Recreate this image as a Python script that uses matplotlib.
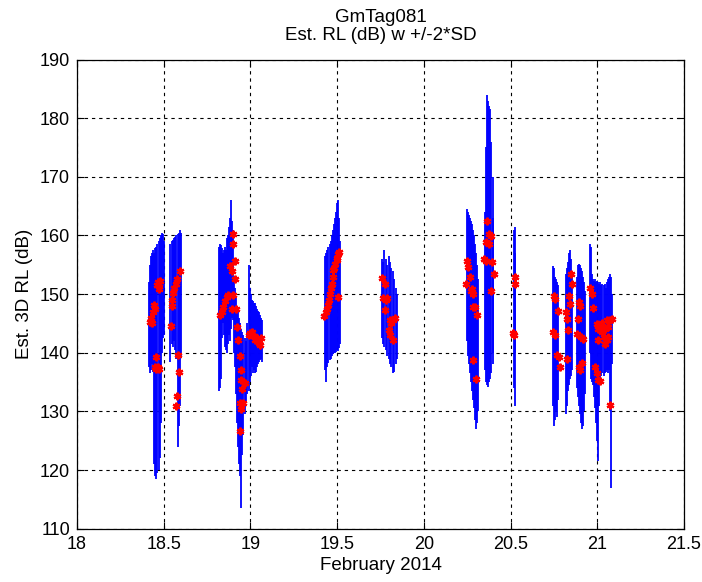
import matplotlib
matplotlib.use("Agg")
import matplotlib.pyplot as plt

plt.rcParams['font.family'] = ['Liberation Sans', 'DejaVu Sans']

title_lines = ["GmTag081", "Est. RL (dB) w +/-2*SD"]
x_label = "February 2014"
y_label = "Est. 3D RL (dB)"
x_ticks = [18, 18.5, 19, 19.5, 20, 20.5, 21, 21.5]
x_tick_labels = ["18", "18.5", "19", "19.5", "20", "20.5", "21", "21.5"]
y_ticks = [110, 120, 130, 140, 150, 160, 170, 180, 190]

# error bars: time (day of Feb 2014), lower and upper bound (dB)
bar_x = [
    18.415, 18.422, 18.428, 18.434, 18.440, 18.446, 18.452, 18.458, 18.464, 18.470, 18.476, 18.482, 18.488, 18.494, 18.500,
    18.538, 18.545, 18.552, 18.559, 18.566, 18.573, 18.580, 18.587, 18.594, 18.600,
    18.816, 18.822, 18.828, 18.834, 18.840, 18.846, 18.852, 18.858, 18.864, 18.870, 18.876, 18.882, 18.888, 18.894, 18.900,
    18.906, 18.912, 18.918, 18.924, 18.930, 18.936, 18.942, 18.948, 18.954, 18.960, 18.966, 18.972, 18.978,
    18.990, 18.996, 19.002, 19.008, 19.014, 19.020, 19.026, 19.032, 19.038, 19.044, 19.050, 19.056, 19.062, 19.068,
    19.432, 19.438, 19.444, 19.450, 19.456, 19.462, 19.468, 19.474, 19.480, 19.486, 19.492, 19.498, 19.504, 19.510, 19.516,
    19.757, 19.765, 19.773, 19.781, 19.789, 19.797, 19.805, 19.813, 19.821, 19.829, 19.837, 19.843,
    20.247, 20.253, 20.259, 20.265, 20.271, 20.277, 20.283, 20.289, 20.295, 20.301, 20.307, 20.313,
    20.354, 20.360, 20.366, 20.372, 20.378, 20.384, 20.390, 20.396, 20.401,
    20.518, 20.524, 20.528,
    20.746, 20.752, 20.758, 20.764, 20.770, 20.776,
    20.820, 20.826, 20.832, 20.838, 20.844, 20.850, 20.856,
    20.882, 20.888, 20.894, 20.900, 20.906, 20.912, 20.918, 20.924, 20.930,
    20.958, 20.964, 20.970, 20.976, 20.982, 20.988, 20.994, 21.000, 21.006, 21.012, 21.018,
    21.024, 21.030, 21.036, 21.042, 21.048, 21.054, 21.060, 21.066, 21.072, 21.078, 21.084,
]
bar_lo = [
    137.5, 136.5, 137.0, 138.0, 136.8, 121.0, 119.0, 118.5, 119.5, 120.0, 122.0, 128.0, 140.0, 142.5, 143.0,
    138.5, 141.5, 141.0, 142.0, 140.5, 139.0, 124.0, 127.5, 131.0, 139.5,
    133.5, 134.0, 135.5, 142.5, 145.0, 143.0, 141.0, 140.5, 140.0, 141.5, 143.0, 142.0, 144.0, 146.0, 145.5,
    140.0, 137.5, 133.0, 128.0, 124.0, 121.0, 119.0, 113.5, 122.5, 126.0, 129.5, 131.5, 133.0,
    133.5, 135.0, 136.0, 137.5, 136.5, 137.0, 136.5, 136.8, 137.5, 138.0, 138.5, 138.8, 139.0, 138.5,
    137.0, 135.0, 137.5, 138.2, 138.8, 139.0, 139.4, 139.8, 139.9, 140.0, 140.2, 140.5, 140.3, 140.8, 141.5,
    142.5, 141.5, 141.0, 140.5, 139.5, 139.0, 138.0, 137.5, 136.5, 136.8, 138.0, 139.0,
    142.0, 139.5, 138.0, 136.5, 135.0, 133.5, 132.0, 130.5, 128.5, 127.0, 128.0, 130.0,
    137.0, 135.0, 134.5, 134.2, 135.0, 135.5, 136.5, 138.0, 140.0,
    134.0, 131.0, 140.0,
    131.0, 127.5, 128.5, 130.0, 129.0, 132.0,
    129.5, 131.0, 133.5, 134.5, 135.5, 136.0, 137.0,
    134.0, 132.5, 131.0, 129.5, 128.0, 127.0, 127.5, 130.0, 133.0,
    140.0, 135.5, 135.0, 134.5, 132.5, 130.5, 128.0, 125.0, 121.5, 131.0, 135.5,
    136.0, 136.5, 136.0, 136.5, 136.8, 137.0, 136.5, 137.0, 130.0, 117.0, 138.0,
]
bar_hi = [
    152.0, 155.0, 156.5, 157.0, 157.5, 157.0, 157.8, 158.0, 158.5, 159.0, 159.5, 160.0, 160.5, 160.2, 159.0,
    158.5, 159.0, 159.2, 159.5, 159.8, 160.0, 160.2, 160.5, 161.0, 160.5,
    158.0, 158.5, 158.3, 157.8, 157.0, 157.5, 158.0, 157.6, 159.5, 160.0, 161.5, 163.0, 166.0, 162.5, 161.0,
    152.5, 151.0, 149.5, 148.0, 147.0, 146.0, 145.0, 144.0, 143.5, 143.0, 142.5, 142.0, 145.0,
    155.0, 151.0, 150.0, 149.0, 148.8, 148.5, 148.5, 148.0, 147.5, 147.2, 147.0, 146.5, 146.0, 145.5,
    156.5, 157.0, 157.5, 158.0, 158.5, 159.0, 160.0, 161.0, 162.0, 163.0, 164.0, 165.5, 166.0, 163.0, 159.0,
    156.0, 155.5, 157.5, 156.0, 155.0, 156.5, 155.5, 154.5, 154.0, 152.5, 151.0, 150.0,
    164.5, 164.0, 163.5, 163.0, 162.5, 162.0, 161.0, 160.0, 158.5, 157.0, 155.0, 152.5,
    164.0, 175.0, 184.0, 183.0, 182.0, 181.5, 176.0, 170.0, 163.0,
    161.0, 161.5, 157.0,
    154.8, 154.5, 153.0, 152.5, 152.0, 151.5,
    153.5, 154.5, 155.5, 157.0, 157.5, 156.0, 154.0,
    153.0, 155.0, 155.2, 155.0, 154.5, 154.0, 153.0, 152.0, 150.5,
    158.5, 158.0, 153.5, 152.5, 152.3, 152.5, 152.0, 152.3, 152.0, 151.8, 152.0,
    151.5, 151.8, 151.5, 151.7, 151.0, 152.0, 152.5, 153.0, 153.4, 153.0, 150.0,
]

# red estimate markers
dot_x = [
    18.420, 18.425, 18.430, 18.440, 18.445, 18.452, 18.460, 18.465, 18.470, 18.475, 18.480,
    18.455, 18.450, 18.458, 18.465, 18.470,
    18.540, 18.546, 18.550, 18.556, 18.562, 18.568, 18.575, 18.594, 18.584, 18.586, 18.579, 18.571,
    18.825, 18.834, 18.844, 18.853, 18.863, 18.873, 18.882, 18.892, 18.902, 18.898, 18.911, 18.911, 18.902, 18.892,
    18.919, 18.925, 18.929, 18.938, 18.944, 18.948, 18.952, 18.938, 18.957, 18.948, 18.938, 18.967,
    18.990, 19.000, 19.010, 19.020, 19.028, 19.038, 19.047, 19.057, 19.060,
    19.425, 19.436, 19.440, 19.449, 19.455, 19.459, 19.465, 19.468, 19.474, 19.478, 19.484, 19.488,
    19.497, 19.500, 19.507, 19.513, 19.507,
    19.761, 19.774, 19.765, 19.784, 19.788, 19.774, 19.803, 19.813, 19.822, 19.832, 19.799, 19.807, 19.822,
    20.247, 20.257, 20.266, 20.243, 20.276, 20.270, 20.285, 20.282, 20.295, 20.305, 20.285, 20.300,
    20.366, 20.376, 20.385, 20.357, 20.376, 20.347, 20.357, 20.395, 20.405, 20.385,
    20.526, 20.526, 20.513, 20.522,
    20.751, 20.757, 20.776, 20.747, 20.757, 20.766, 20.782, 20.785,
    20.846, 20.852, 20.839, 20.842, 20.819, 20.826, 20.832, 20.823,
    20.893, 20.902, 20.889, 20.906, 20.920, 20.883, 20.893, 20.912, 20.902,
    20.958, 20.968, 20.978, 20.997, 21.007, 21.016, 21.026, 21.036, 21.045, 21.055, 21.064, 21.074,
    21.084, 20.997, 21.007, 21.016, 20.987, 21.074, 21.055, 21.026, 21.045, 21.064, 21.007,
]
dot_y = [
    145.3, 146.0, 145.0, 147.0, 148.2, 147.5, 151.5, 152.0, 150.8, 151.8, 152.3,
    139.2, 137.5, 137.3, 137.6, 137.2,
    144.5, 148.0, 149.0, 150.2, 151.0, 151.8, 152.5, 154.0, 139.7, 136.8, 132.6, 130.9,
    146.4, 147.0, 147.8, 148.9, 149.5, 149.8, 154.8, 154.0, 160.2, 158.5, 155.7, 152.6, 149.8, 147.5,
    147.5, 144.4, 142.2, 139.4, 137.1, 135.4, 133.8, 131.5, 131.5, 130.4, 126.7, 134.9,
    143.0, 143.3, 143.6, 142.8, 142.2, 142.5, 141.7, 141.4, 142.5,
    146.2, 147.0, 147.5, 148.1, 149.0, 150.1, 151.0, 151.8, 153.0, 154.1, 154.5, 155.2,
    155.8, 156.2, 156.9, 157.2, 149.5,
    152.7, 151.8, 149.3, 149.0, 149.3, 147.3, 145.6, 145.0, 145.6, 145.9, 143.9, 143.0, 142.2,
    155.7, 154.6, 152.9, 151.8, 150.9, 150.6, 150.1, 147.8, 147.8, 146.4, 138.8, 135.6,
    162.5, 160.2, 159.9, 158.8, 158.5, 156.0, 155.7, 155.4, 153.4, 150.6,
    152.9, 151.8, 143.3, 143.0,
    149.7, 149.2, 147.2, 143.5, 143.0, 139.6, 139.3, 137.6,
    153.4, 151.8, 149.7, 148.3, 146.9, 145.8, 143.8, 139.0,
    148.6, 148.0, 145.8, 142.7, 142.4, 143.2, 137.6, 138.2, 137.0,
    151.1, 150.0, 147.7, 144.9, 144.1, 144.4, 143.5, 142.7, 141.5, 145.5, 144.4, 145.5,
    145.8, 136.5, 135.4, 135.1, 137.6, 131.1, 142.1, 145.0, 144.1, 142.7, 142.1,
]

fig = plt.figure(figsize=(7.02, 5.82), dpi=100)
ax_left, ax_right, ax_top, ax_bottom = 77, 684, 59.5, 528.7
ax = fig.add_axes([ax_left / 702, 1 - ax_bottom / 582,
                   (ax_right - ax_left) / 702, (ax_bottom - ax_top) / 582])

ax.vlines(bar_x, bar_lo, bar_hi, colors='#0000FF', linewidth=1.3, zorder=2)
ax.plot(dot_x, dot_y, linestyle='none', marker=(6, 2, 0), markersize=5.5,
        markeredgewidth=1.6, color='#FF0000', zorder=3)

ax.set_xlim(18, 21.5)
ax.set_ylim(110, 190)
ax.set_xticks(x_ticks)
ax.set_xticklabels(x_tick_labels)
ax.set_yticks(y_ticks)
ax.grid(True, color='black', linestyle=(0, (3, 3.5)), linewidth=0.8)
ax.set_axisbelow(True)
ax.tick_params(direction='in', top=True, right=True, length=5, width=0.8,
               labelsize=13, pad=5)
for s in ax.spines.values():
    s.set_linewidth(0.9)

ax.set_title("\n".join(title_lines), fontsize=13.5, linespacing=1.05, pad=14)
ax.set_xlabel(x_label, fontsize=13.5, labelpad=3)
ax.set_ylabel(y_label, fontsize=13.5, labelpad=5)

fig.savefig("out.png", dpi=100, facecolor='white')
